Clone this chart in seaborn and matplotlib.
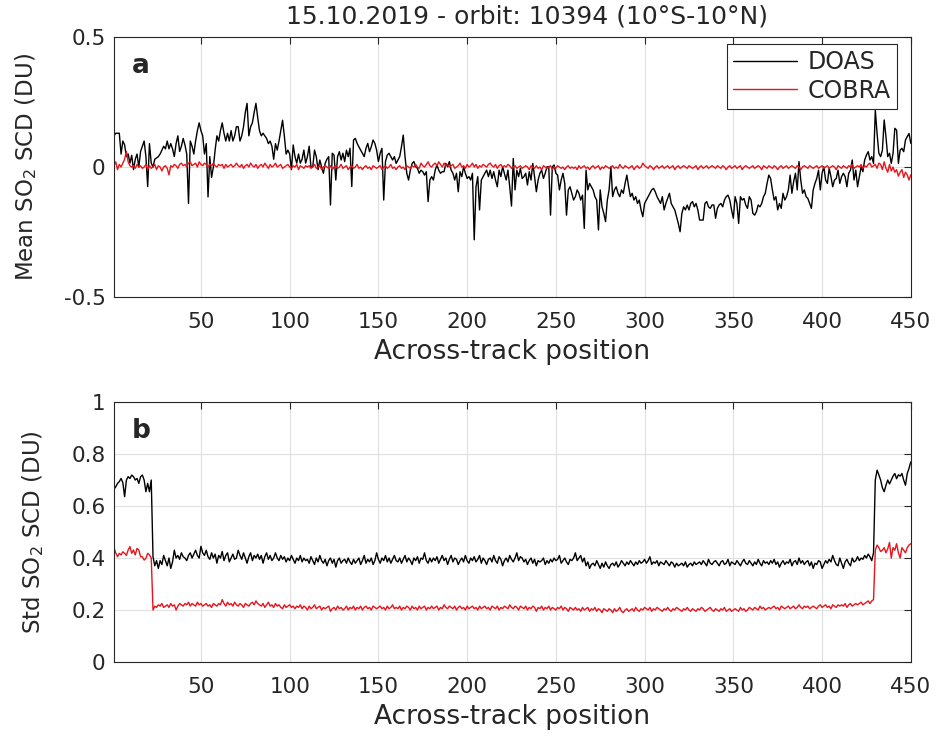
import numpy as np
import pandas as pd
import matplotlib
matplotlib.use("Agg")
import matplotlib.pyplot as plt
from matplotlib.ticker import FuncFormatter
import seaborn as sns

# mean SO2 SCD per across-track position (DU)
doas_mean = [
    .12, .13, .13, .13, .05, .10, .085, .04, .05, .015,
    .045, -.01, .03, .05, .00, .06, .08, .10, .04, -.075,
    .09, .015, .00, .03, .035, .04, .05, .065, .08, .07,
    .10, .07, .09, .07, .04, .09, .12, .06, .08, .11,
    .085, .05, -.14, .10, .08, .05, .10, .14, .17, .14,
    .12, .05, .09, -.115, .04, -.04, .00, .065, .12, .10,
    .14, .17, .13, .10, .13, .10, .14, .10, .12, .155,
    .155, .10, .12, .155, .21, .245, .12, .155, .17, .21,
    .245, .19, .14, .12, .13, .12, .11, .09, .10, .08,
    .03, .09, .065, .10, .14, .18, .12, .05, .065, .05,
    -.01, .085, .04, .015, .05, .015, .03, .065, .015, .04,
    .08, .00, .00, .065, .04, -.01, .027, .00, -.024, .014,
    .03, .04, -.146, .053, .046, -.05, .04, .059, .027, .053,
    .021, .065, .04, .072, -.075, .104, .11, .091, .078, .065,
    .053, .04, .072, .091, .059, .078, .104, .091, .065, .021,
    .053, .072, -.127, .021, .046, .053, .04, .027, .04, .014,
    .027, .04, .078, .123, .04, -.024, -.05, -.012, .014, .021,
    .001, -.005, -.024, -.012, -.018, -.031, -.018, -.133, -.05, -.037,
    -.05, -.012, .008, -.012, -.024, -.018, -.018, .014, .001, .021,
    -.012, -.024, -.05, -.024, -.095, -.018, -.037, .001, -.024, -.044,
    -.037, -.05, -.024, -.28, -.076, -.037, -.165, -.05, -.037, -.024,
    -.012, -.037, -.012, -.044, -.018, -.05, -.076, -.012, -.037, .001,
    -.024, -.05, -.012, -.076, -.15, .033, -.088, -.012, -.037, -.005,
    -.044, -.037, -.024, -.069, -.018, -.05, .014, -.037, -.095, -.05,
    -.024, -.012, -.044, -.024, .001, .001, -.185, .001, .008, -.024,
    -.031, -.088, -.05, -.024, -.063, -.185, -.088, -.076, -.101, -.127,
    -.114, -.088, -.101, -.127, -.108, -.236, -.012, -.088, -.063, -.076,
    -.088, -.114, -.127, -.242, -.088, -.153, -.178, -.21, -.127, -.088,
    .001, -.114, -.088, -.076, -.101, -.114, -.088, -.101, -.063, -.031,
    -.076, -.114, -.101, -.127, -.114, -.14, -.127, -.165, -.191, -.14,
    -.127, -.114, -.101, -.088, -.082, -.095, -.114, -.127, -.14, -.114,
    -.165, -.14, -.121, -.101, -.14, -.153, -.165, -.191, -.217, -.249,
    -.178, -.153, -.165, -.146, -.165, -.14, -.133, -.153, -.14, -.165,
    -.204, -.204, -.204, -.14, -.133, -.153, -.159, -.146, -.146, -.197,
    -.159, -.146, -.14, -.153, -.127, -.114, -.108, -.127, -.165, -.197,
    -.114, -.14, -.217, -.114, -.127, -.121, -.146, -.159, -.114, -.127,
    -.178, -.185, -.172, -.146, -.153, -.14, -.114, -.101, -.063, -.031,
    -.044, -.088, -.127, -.114, -.165, -.14, -.159, -.101, -.127, -.114,
    -.088, -.031, -.101, -.056, -.024, -.088, .021, -.05, -.101, -.088,
    -.114, -.121, -.14, -.159, -.088, -.063, -.044, -.012, -.088, -.024,
    .001, -.05, -.063, -.005, -.037, -.076, -.05, -.044, -.012, -.063,
    -.037, -.024, -.037, -.076, -.024, -.012, .027, -.05, -.012, -.076,
    -.037, .001, -.018, .027, .046, .059, .027, .04, .014, .219,
    .129, .053, .04, .065, .181, .117, .04, .053, .014, .053,
    .149, .142, .014, .065, .072, .059, .104, .117, .129, .091,
]

cobra_mean = [
    .005, .02, -.01, .01, .00, .015, .03, .06, .02, .005,
    .00, .005, -.005, .01, .00, .005, -.005, .00, .01, -.01,
    .005, -.005, .00, .01, -.01, .005, .00, -.015, .00, .005,
    -.005, -.03, .005, .00, .01, .005, -.005, .01, .015, .005,
    .01, .00, .015, .02, .005, .01, .015, .00, .02, .01,
    .005, .015, .01, .00, .01, .005, .015, .005, .00, .01,
    .005, .01, -.005, .01, .00, .005, .01, .00, .005, .015,
    .005, .00, .01, -.005, .005, .01, .00, .015, .005, .00,
    .01, -.005, .005, .01, .00, .015, .005, -.005, .01, .00,
    .005, .015, .00, .005, .01, -.005, .00, .005, .01, .00,
    -.005, .005, .00, .01, -.01, .005, .00, -.005, .005, .00,
    .005, -.005, .00, .01, -.005, .00, .005, -.01, .00, .005,
    .00, -.005, .005, -.01, .00, .005, -.005, .00, .01, -.005,
    .00, .005, -.01, .00, .005, -.005, .00, .01, -.005, .00,
    -.01, .00, .005, -.005, .00, -.01, .005, .00, -.005, .00,
    .005, -.01, .00, .005, -.005, .00, .01, -.005, .00, -.01,
    .00, .005, -.005, .00, -.01, .005, .00, -.005, .005, .00,
    .01, .00, -.005, .015, .005, .00, .01, .02, .005, .00,
    .01, .015, .005, .02, .01, .00, .015, .005, .01, .00,
    .005, .01, -.005, .00, .005, .015, .00, .005, -.005, .01,
    .00, .005, .015, .00, .01, -.005, .005, .00, .01, .005,
    .00, .01, .015, .005, .00, .01, -.005, .005, .01, .00,
    .005, .00, .01, .005, -.005, .00, .005, -.005, .00, .005,
    -.005, .00, .005, .00, -.01, .005, .00, -.005, .005, -.005,
    .00, -.01, .005, .00, -.005, .00, .005, -.01, .00, -.005,
    .005, .00, -.005, .00, -.01, .00, .005, -.005, .00, -.005,
    .00, -.01, .005, -.005, .00, .005, -.005, .00, -.01, .00,
    .005, -.005, .00, .005, -.01, .00, -.005, .005, .00, -.005,
    .00, .005, -.005, .00, -.005, .01, .00, -.005, .005, .00,
    -.005, .00, .005, -.01, .00, .005, -.005, .00, .015, .005,
    .00, -.005, .005, .00, -.01, .00, .005, -.005, .00, .005,
    -.005, .00, .005, -.005, .00, .005, -.01, .00, .005, -.005,
    .00, .005, .00, -.005, .005, .00, -.005, .00, .005, -.01,
    .00, .005, -.005, .00, .005, -.005, .00, .005, .00, -.005,
    .005, .00, -.005, .005, .00, -.01, .00, .005, -.005, .00,
    .005, -.005, .00, .005, -.01, .00, .005, .00, -.005, .00,
    .005, -.005, .00, .005, .00, -.01, .005, .00, -.005, .005,
    .00, -.005, .005, .00, -.01, .00, .005, -.005, .00, .005,
    -.005, .00, .005, .00, -.005, .005, .00, -.01, .00, .005,
    .00, -.005, .005, .00, -.005, .00, .005, -.005, .00, .005,
    -.005, .00, .005, -.005, .00, .005, .00, -.01, .005, .00,
    -.005, .005, .00, -.005, .005, .00, .01, -.005, .00, .005,
    .00, .01, -.005, .005, .00, .01, .015, .00, .005, .01,
    -.005, .015, .01, -.01, .02, -.005, -.02, .01, -.015, .00,
    -.02, -.01, -.035, -.02, -.01, -.04, -.02, -.03, -.05, -.03,
]

# standard deviation of SO2 SCD per across-track position (DU)
doas_std = [
    .665, .674, .687, .694, .706, .69, .636, .70, .713, .706,
    .719, .713, .70, .706, .687, .713, .719, .70, .655, .687,
    .655, .70, .405, .37, .39, .36, .39, .375, .41, .39,
    .37, .40, .36, .385, .43, .40, .41, .395, .42, .405,
    .40, .39, .41, .42, .40, .415, .43, .41, .40, .445,
    .42, .41, .43, .405, .395, .42, .40, .415, .38, .41,
    .40, .425, .39, .41, .42, .385, .40, .415, .395, .40,
    .43, .41, .395, .42, .40, .38, .405, .42, .39, .41,
    .40, .415, .395, .41, .38, .405, .42, .395, .41, .39,
    .40, .42, .40, .39, .41, .395, .405, .385, .40, .39,
    .41, .395, .38, .40, .39, .41, .385, .40, .39, .395,
    .38, .405, .39, .375, .40, .385, .41, .39, .38, .395,
    .37, .39, .40, .38, .395, .365, .39, .40, .38, .39,
    .395, .38, .40, .385, .375, .395, .38, .39, .40, .375,
    .39, .41, .38, .395, .385, .40, .375, .39, .42, .395,
    .38, .40, .39, .41, .385, .40, .38, .395, .41, .39,
    .385, .40, .38, .395, .41, .385, .40, .39, .375, .40,
    .39, .405, .38, .40, .395, .42, .39, .38, .40, .385,
    .40, .39, .405, .38, .395, .41, .39, .40, .375, .395,
    .41, .385, .40, .395, .375, .39, .40, .385, .41, .39,
    .38, .40, .39, .405, .385, .395, .41, .38, .40, .39,
    .375, .395, .40, .385, .41, .39, .38, .405, .395, .37,
    .39, .40, .385, .41, .395, .385, .40, .42, .39, .405,
    .40, .385, .395, .375, .39, .40, .38, .395, .37, .39,
    .385, .39, .40, .375, .39, .38, .395, .385, .40, .39,
    .395, .41, .38, .39, .40, .385, .375, .395, .39, .40,
    .42, .39, .40, .41, .385, .40, .37, .385, .36, .375,
    .38, .37, .39, .375, .36, .38, .365, .385, .37, .36,
    .375, .38, .37, .385, .365, .375, .39, .38, .37, .385,
    .375, .39, .38, .37, .385, .375, .39, .38, .385, .395,
    .38, .39, .405, .375, .385, .38, .39, .37, .385, .38,
    .375, .39, .38, .37, .385, .38, .365, .38, .37, .375,
    .38, .37, .385, .365, .375, .38, .37, .385, .375, .38,
    .385, .375, .39, .38, .37, .395, .38, .375, .385, .39,
    .38, .37, .385, .39, .375, .38, .395, .37, .385, .38,
    .375, .39, .38, .37, .385, .395, .38, .375, .39, .38,
    .37, .385, .375, .395, .38, .37, .39, .38, .385, .375,
    .39, .38, .395, .375, .385, .365, .38, .39, .375, .385,
    .38, .395, .37, .385, .39, .375, .40, .38, .39, .375,
    .385, .39, .37, .385, .36, .38, .375, .39, .385, .36,
    .375, .39, .38, .395, .385, .41, .39, .375, .37, .40,
    .38, .36, .385, .395, .38, .37, .40, .385, .39, .405,
    .39, .40, .395, .41, .40, .415, .405, .39, .42, .70,
    .738, .72, .70, .67, .655, .68, .70, .685, .70, .715,
    .725, .705, .72, .715, .725, .70, .68, .725, .745, .77,
]

cobra_std = [
    .44, .42, .405, .418, .412, .424, .418, .41, .431, .444,
    .418, .431, .412, .437, .431, .405, .405, .392, .399, .418,
    .412, .40, .20, .215, .21, .22, .215, .225, .21, .215,
    .22, .21, .225, .215, .22, .20, .215, .225, .22, .215,
    .225, .22, .23, .215, .225, .22, .215, .23, .22, .225,
    .215, .22, .225, .215, .22, .21, .225, .22, .215, .225,
    .22, .24, .225, .215, .23, .22, .225, .215, .23, .22,
    .215, .225, .22, .21, .225, .22, .215, .225, .23, .22,
    .235, .225, .22, .215, .225, .21, .22, .23, .215, .22,
    .21, .225, .215, .22, .21, .205, .22, .21, .215, .22,
    .21, .215, .205, .215, .21, .22, .205, .215, .21, .20,
    .215, .205, .21, .22, .205, .21, .215, .20, .21, .205,
    .21, .215, .195, .205, .21, .20, .215, .205, .21, .20,
    .205, .215, .20, .21, .205, .215, .20, .21, .205, .215,
    .20, .21, .215, .205, .21, .20, .215, .21, .205, .21,
    .215, .205, .21, .20, .215, .205, .21, .22, .205, .21,
    .205, .215, .20, .21, .205, .215, .21, .20, .215, .205,
    .21, .20, .215, .205, .21, .215, .20, .21, .205, .215,
    .205, .21, .215, .20, .21, .205, .22, .21, .205, .215,
    .21, .205, .215, .20, .21, .215, .205, .21, .20, .215,
    .205, .21, .215, .205, .21, .20, .215, .205, .21, .215,
    .205, .21, .20, .215, .21, .205, .215, .20, .21, .205,
    .215, .21, .205, .22, .21, .205, .215, .21, .20, .215,
    .21, .205, .215, .20, .21, .205, .215, .21, .195, .21,
    .205, .215, .20, .21, .205, .215, .20, .21, .205, .20,
    .21, .205, .215, .20, .21, .205, .195, .21, .205, .20,
    .21, .20, .205, .195, .21, .20, .205, .21, .195, .205,
    .20, .21, .195, .205, .20, .19, .205, .20, .195, .205,
    .20, .19, .205, .195, .20, .21, .195, .19, .20, .205,
    .195, .20, .205, .195, .21, .20, .195, .205, .20, .21,
    .205, .20, .21, .195, .205, .20, .21, .205, .20, .195,
    .205, .20, .21, .20, .195, .205, .20, .21, .205, .20,
    .195, .205, .20, .21, .20, .195, .205, .20, .195, .205,
    .20, .21, .205, .195, .20, .205, .21, .20, .195, .205,
    .20, .195, .205, .20, .21, .195, .20, .205, .195, .20,
    .205, .20, .195, .21, .20, .205, .195, .20, .21, .205,
    .20, .21, .205, .20, .215, .205, .21, .20, .205, .21,
    .205, .21, .215, .205, .21, .20, .215, .21, .205, .21,
    .215, .205, .21, .215, .205, .21, .22, .21, .205, .215,
    .21, .215, .205, .21, .215, .21, .205, .215, .22, .21,
    .215, .22, .21, .215, .205, .22, .215, .21, .22, .215,
    .22, .215, .225, .21, .22, .225, .215, .22, .225, .22,
    .225, .23, .22, .225, .23, .235, .225, .235, .24, .43,
    .45, .44, .425, .43, .44, .42, .435, .46, .40, .44,
    .43, .455, .42, .40, .44, .43, .42, .44, .45, .455,
]

methods = ["DOAS", "COBRA"]
colors = {"DOAS": "black", "COBRA": "#e8141c"}

sns.set_style("whitegrid")
plt.rcParams["font.family"] = ["DejaVu Sans"]
plt.rcParams["axes.unicode_minus"] = False


def long_table(a, b):
    return pd.concat([
        pd.DataFrame({"pos": np.arange(1, len(a) + 1), "val": a, "method": "DOAS"}),
        pd.DataFrame({"pos": np.arange(1, len(b) + 1), "val": b, "method": "COBRA"}),
    ])


fig, (ax1, ax2) = plt.subplots(2, 1, figsize=(9.38, 7.41), dpi=100)
fig.subplots_adjust(left=0.1215, right=0.971, top=0.950, bottom=0.1066, hspace=0.404)

sns.lineplot(data=long_table(doas_mean, cobra_mean), x="pos", y="val", hue="method",
             hue_order=methods, palette=colors, lw=1.0, ax=ax1)
sns.lineplot(data=long_table(doas_std, cobra_std), x="pos", y="val", hue="method",
             hue_order=methods, palette=colors, lw=1.0, ax=ax2, legend=False)

fmt = FuncFormatter(lambda v, p: f"{v:g}")
for ax, lab, letter in [(ax1, "Mean SO$_2$ SCD (DU)", "a"), (ax2, "Std SO$_2$ SCD (DU)", "b")]:
    ax.set_xlim(1, 450)
    ax.set_xticks(range(50, 451, 50))
    ax.set_xlabel("Across-track position", fontsize=19, labelpad=5, color="#262626")
    ax.set_ylabel(lab, fontsize=16.5, labelpad=18, color="#262626")
    ax.yaxis.set_major_formatter(fmt)
    ax.tick_params(direction="in", top=True, right=True, length=5, width=0.8,
                   color="#262626", labelsize=15.5, labelcolor="#262626")
    ax.tick_params(axis="x", pad=11)
    ax.tick_params(axis="y", pad=6)
    ax.grid(True, color="#e0e0e0", lw=0.8)
    for s in ax.spines.values():
        s.set_color("#262626")
        s.set_linewidth(0.8)
    ax.text(0.022, 0.89, letter, transform=ax.transAxes, fontsize=19,
            fontweight="bold", va="center")

ax1.set_ylim(-0.5, 0.5)
ax1.set_yticks([-0.5, 0, 0.5])
ax2.set_ylim(0, 1)
ax2.set_yticks([0, 0.2, 0.4, 0.6, 0.8, 1])

ax1.set_title("15.10.2019 - orbit: 10394 (10°S-10°N)", fontsize=18, pad=10,
              x=0.518, color="#262626")

h, l = ax1.get_legend_handles_labels()
leg = ax1.legend(h, l, loc="upper right", bbox_to_anchor=(0.991, 1.0), fontsize=17,
                 frameon=True, fancybox=False, edgecolor="#262626", framealpha=1,
                 handlelength=2.7, handletextpad=0.45, borderaxespad=0.3,
                 borderpad=0.25, labelspacing=0.2)
leg.get_frame().set_linewidth(0.8)

fig.savefig("out.png", dpi=100)
